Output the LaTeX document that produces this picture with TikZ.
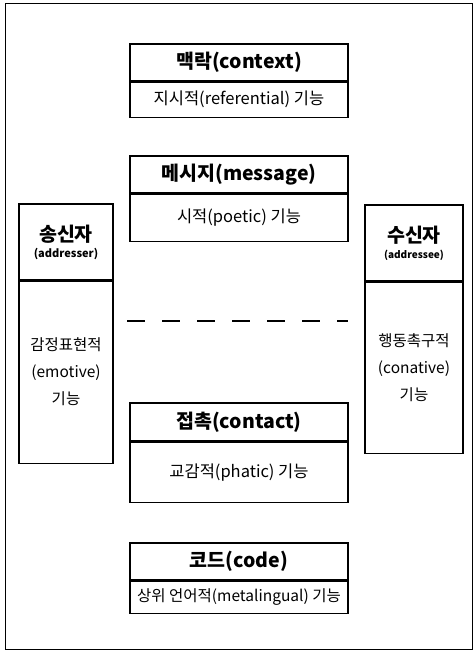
\documentclass[tikz,border=0pt]{standalone}
\usepackage{fontspec}
\setmainfont{Noto Sans CJK KR}
\usetikzlibrary{positioning}

\begin{document}
\begin{tikzpicture}[x=1pt, y=-1pt,
            head/.style={draw, rectangle, line width=1.1pt, minimum width=218pt, minimum height=37pt, inner sep=0pt, align=center, font=\fontsize{19.5}{21}\selectfont\bfseries},
            body/.style={draw, rectangle, line width=1.1pt, minimum width=218pt, inner sep=0pt, align=center, font=\fontsize{16.5}{27}\selectfont},
            side/.style={font=\fontsize{15.5}{27}\selectfont}]
            \useasboundingbox (0,0) rectangle (474,652);
            \draw[line width=0.9pt] (5,3) rectangle (472,649);

            \node[head] (context) at (239,62.5) {맥락(context)};
            \node[body, minimum height=35pt, below=0pt of context] (referential) {지시적(referential) 기능};

            \node[head] (message) at (239,174.5) {메시지(message)};
            \node[body, minimum height=47pt, below=0pt of message] (poetic) {시적(poetic) 기능};

            \node[head, minimum width=94pt, minimum height=76pt] (sender) at (66,242) {송신자\\[-5pt]{\fontsize{11}{12}\selectfont (addresser)}};
            \node[body, side, minimum width=94pt, minimum height=182pt, below=0pt of sender] (emotive) {감정표현적\\(emotive)\\기능};

            \node[head, minimum width=98pt, minimum height=76pt] (receiver) at (414,243) {수신자\\[-5pt]{\fontsize{10}{12}\selectfont (addressee)}};
            \node[body, side, minimum width=98pt, minimum height=171pt, below=0pt of receiver] (conative) {행동촉구적\\(conative)\\기능};

            \node[head, minimum height=38pt] (contact) at (239,422) {접촉(contact)};
            \node[body, minimum height=60pt, below=0pt of contact] (phatic) {교감적(phatic) 기능};

            \node[head] (code) at (239,561.5) {코드(code)};
            \node[body, minimum height=32pt, below=0pt of code, font=\fontsize{15.5}{18}\selectfont] (metalingual) {상위 언어적(metalingual) 기능};

            % split between message and contact
            \coordinate (splitL) at (127,321);
            \coordinate (splitR) at (348,321);
            \draw[line width=2pt, dash pattern=on 18pt off 17pt] (splitL) -- (splitR);
        \end{tikzpicture}
\end{document}
